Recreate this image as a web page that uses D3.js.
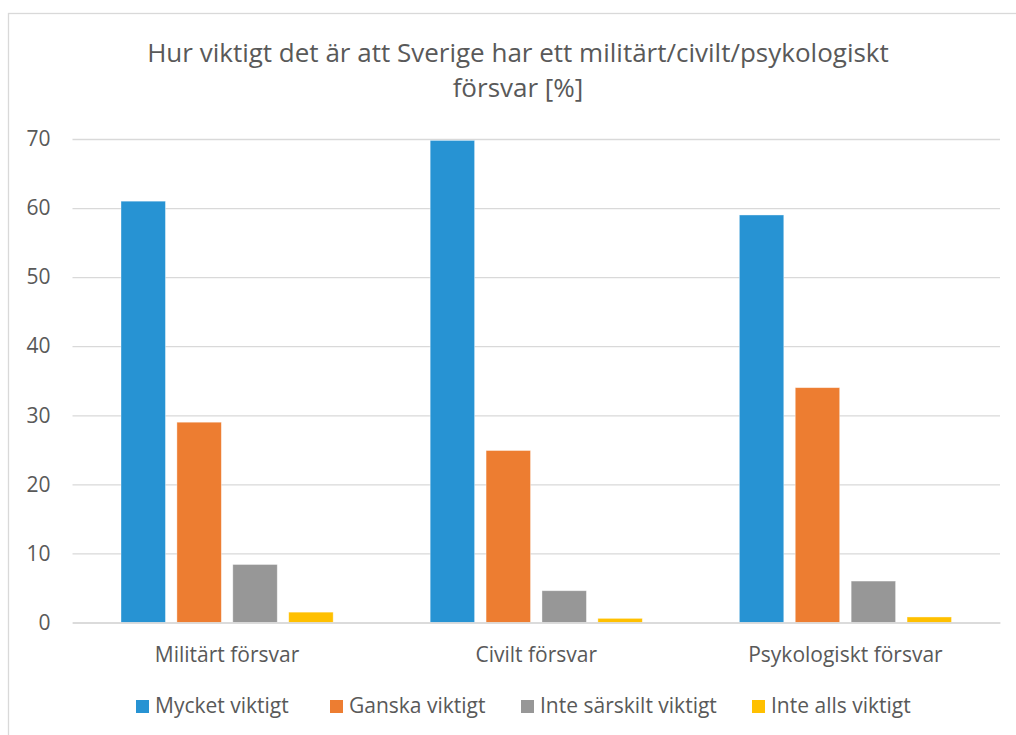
<!DOCTYPE html>
<html>
<head>
<meta charset="utf-8">
<script src="https://cdn.jsdelivr.net/npm/d3@7"></script>
<style>
  html, body { margin: 0; padding: 0; background: #fff; }
  svg { display: block; }
  text { font-family: "Open Sans", Lato, sans-serif; fill: #595959; }
</style>
</head>
<body>
<svg id="chart" width="1016" height="735"></svg>
<script>
const titleLines = ["Hur viktigt det är att Sverige har ett militärt/civilt/psykologiskt", "försvar [%]"];
const categories = ["Militärt försvar", "Civilt försvar", "Psykologiskt försvar"];
const seriesNames = ["Mycket viktigt", "Ganska viktigt", "Inte särskilt viktigt", "Inte alls viktigt"];
const seriesColors = ["#2793d3", "#ed7d31", "#979797", "#ffc000"];
const mycketViktigt = [61, 69.8, 59];
const ganskaViktigt = [29, 24.9, 34];
const inteSarskiltViktigt = [8.4, 4.6, 6.0];
const inteAllsViktigt = [1.5, 0.6, 0.8];
const yTicks = [0, 10, 20, 30, 40, 50, 60, 70];

const seriesValues = [mycketViktigt, ganskaViktigt, inteSarskiltViktigt, inteAllsViktigt];

const svg = d3.select("#chart");
const W = 1016, H = 735;
const plot = { left: 72.5, right: 1000, top: 139, bottom: 622.5 };

svg.append("rect").attr("x", 0).attr("y", 0).attr("width", W).attr("height", H).attr("fill", "#fff");
svg.append("rect").attr("x", 8.5).attr("y", 13.5).attr("width", 1100).attr("height", 800)
  .attr("fill", "none").attr("stroke", "#d9d9d9").attr("stroke-width", 1.3);

// title
svg.append("g").selectAll("text").data(titleLines).join("text")
  .attr("x", 518).attr("y", (d, i) => 62 + i * 35)
  .attr("text-anchor", "middle").style("font-size", "26px").text(d => d);

const y = d3.scaleLinear().domain([0, 70]).range([plot.bottom, plot.top]);
const x0 = d3.scaleBand().domain(categories).range([plot.left, plot.right]).paddingInner(0).paddingOuter(0);
const groupPad = 48.5;
const x1 = d3.scaleBand().domain(seriesNames).range([groupPad, x0.bandwidth() - groupPad]).paddingInner(0.205).paddingOuter(0);

// gridlines
const yAxis = d3.axisLeft(y).tickValues(yTicks).tickSize(-(plot.right - plot.left)).tickPadding(22).tickFormat(d3.format("d"));
const gy = svg.append("g").attr("transform", `translate(${plot.left},0)`).call(yAxis);
gy.select(".domain").remove();
gy.selectAll(".tick line").attr("stroke", "#d9d9d9").attr("stroke-width", 1.3);
gy.selectAll(".tick text").style("font-size", "21px").attr("fill", "#595959");

// bars
const groups = svg.append("g").selectAll("g").data(categories).join("g")
  .attr("transform", d => `translate(${x0(d)},0)`);
groups.selectAll("rect").data((c, ci) => seriesNames.map((s, si) => ({ s, si, v: seriesValues[si][ci] })))
  .join("rect")
  .attr("x", d => x1(d.s))
  .attr("width", x1.bandwidth())
  .attr("y", d => y(d.v))
  .attr("height", d => y(0) - y(d.v))
  .attr("fill", d => seriesColors[d.si])
  .attr("stroke", "#fff").attr("stroke-opacity", 0.5).attr("stroke-width", 0.75);

// x axis
const xAxis = d3.axisBottom(x0).tickSize(0).tickPadding(0);
const gx = svg.append("g").attr("transform", `translate(0,${plot.bottom})`).call(xAxis);
gx.select(".domain").attr("stroke", "#d9d9d9").attr("stroke-width", 1.3);
gx.selectAll(".tick text").attr("dy", null).attr("y", 39.5).style("font-size", "21px").attr("fill", "#595959");

// legend
const legendX = [136, 330, 521, 752];
const lg = svg.append("g").selectAll("g").data(seriesNames).join("g")
  .attr("transform", (d, i) => `translate(${legendX[i]},700)`);
lg.append("rect").attr("width", 13).attr("height", 13).attr("fill", (d, i) => seriesColors[i]);
lg.append("text").attr("x", 19).attr("y", 13).style("font-size", "21px").text(d => d);
</script>
</body>
</html>
